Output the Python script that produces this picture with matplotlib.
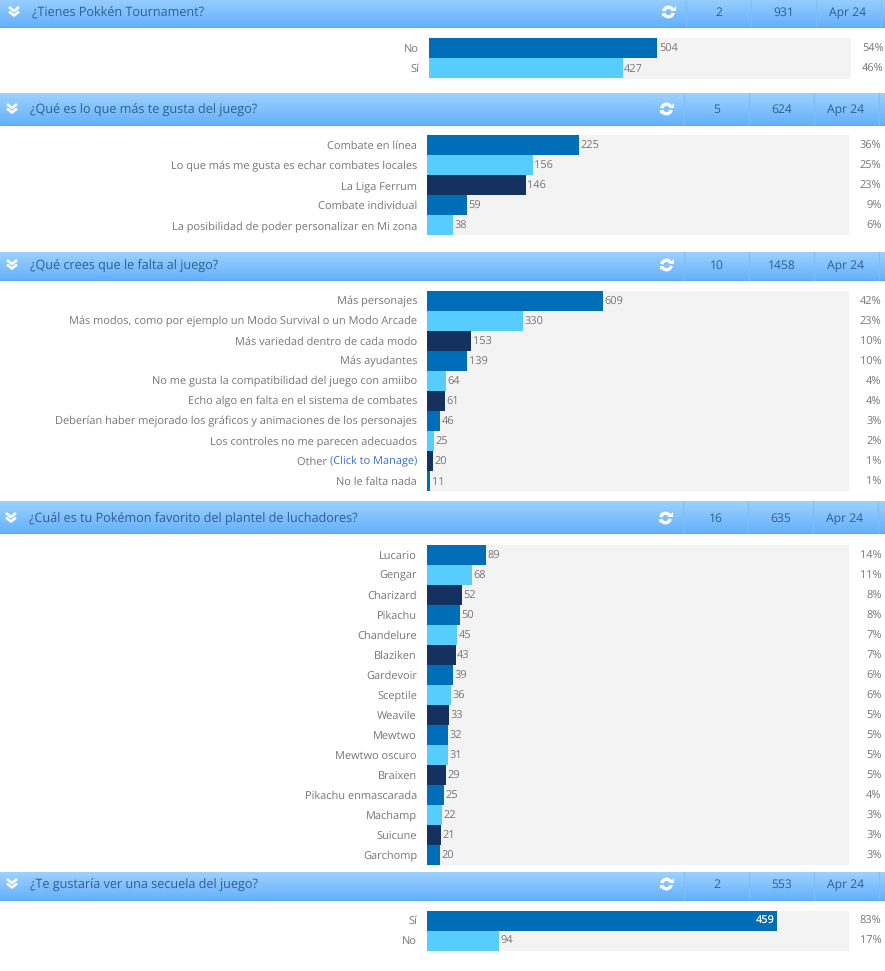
import numpy as np
import matplotlib
matplotlib.use("Agg")
import matplotlib.pyplot as plt
from matplotlib.patches import Arc, Polygon, Rectangle

plt.rcParams['font.family'] = ['Open Sans', 'DejaVu Sans']
plt.rcParams['text.hinting'] = 'none'

W, H = 885, 971

# --- survey data ---
titles = ['¿Tienes Pokkén Tournament?',
          '¿Qué es lo que más te gusta del juego?',
          '¿Qué crees que le falta al juego?',
          '¿Cuál es tu Pokémon favorito del plantel de luchadores?',
          '¿Te gustaría ver una secuela del juego?']
n_options = [2, 5, 10, 16, 2]
totals = [931, 624, 1458, 635, 553]
dates = ['Apr 24'] * 5

labels_1 = ['No', 'Sí']
votes_1 = [504, 427]
pcts_1 = [54, 46]

labels_2 = ['Combate en línea', 'Lo que más me gusta es echar combates locales',
            'La Liga Ferrum', 'Combate individual',
            'La posibilidad de poder personalizar en Mi zona']
votes_2 = [225, 156, 146, 59, 38]
pcts_2 = [36, 25, 23, 9, 6]

labels_3 = ['Más personajes', 'Más modos, como por ejemplo un Modo Survival o un Modo Arcade',
            'Más variedad dentro de cada modo', 'Más ayudantes',
            'No me gusta la compatibilidad del juego con amiibo',
            'Echo algo en falta en el sistema de combates',
            'Deberían haber mejorado los gráficos y animaciones de los personajes',
            'Los controles no me parecen adecuados', 'Other (Click to Manage)', 'No le falta nada']
votes_3 = [609, 330, 153, 139, 64, 61, 46, 25, 20, 11]
pcts_3 = [42, 23, 10, 10, 4, 4, 3, 2, 1, 1]

labels_4 = ['Lucario', 'Gengar', 'Charizard', 'Pikachu', 'Chandelure', 'Blaziken', 'Gardevoir',
            'Sceptile', 'Weavile', 'Mewtwo', 'Mewtwo oscuro', 'Braixen', 'Pikachu enmascarada',
            'Machamp', 'Suicune', 'Garchomp']
votes_4 = [89, 68, 52, 50, 45, 43, 39, 36, 33, 32, 31, 29, 25, 22, 21, 20]
pcts_4 = [14, 11, 8, 8, 7, 7, 6, 6, 5, 5, 5, 5, 4, 3, 3, 3]

labels_5 = ['Sí', 'No']
votes_5 = [459, 94]
pcts_5 = [83, 17]

all_labels = [labels_1, labels_2, labels_3, labels_4, labels_5]
all_votes = [votes_1, votes_2, votes_3, votes_4, votes_5]
all_pcts = [pcts_1, pcts_2, pcts_3, pcts_4, pcts_5]

# layout of each block in pixels
header_y = [(-4, 28), (93, 126), (252, 281), (501, 534), (872, 901)]
header_mid = [12, 109, 265, 518, 884]
header_dx = [2, 0, 0, -1, 0]
track_x = [429, 427, 427, 427, 427]
track_top = [38.5, 135.5, 291, 545, 910.5]
ROW = 20
TRACK_W = 422

BLUE = '#006db8'
LIGHT = '#57cdfd'
NAVY = '#14315f'
CYCLES = [[BLUE, LIGHT], [BLUE, LIGHT, NAVY], [BLUE, LIGHT, NAVY], [BLUE, LIGHT, NAVY], [BLUE, LIGHT]]
# the charts repeat colours in this order
ORDERS = [[0, 1], [0, 1, 2, 0, 1], [0, 1, 2, 0, 1, 2, 0, 1, 2, 0],
          [0, 1, 2, 0, 1, 2, 0, 1, 2, 0, 1, 2, 0, 1, 2, 0], [0, 1]]
TRACK = '#f3f3f3'
TEXT = '#767676'
HEAD_TEXT = '#2f5f8f'
FS = 7.96
BASE = -3.5  # baseline of row text relative to the bar centre, pixels


def px_axes(fig, x, y, w, h):
    """Axes placed with pixel coordinates measured from the top left."""
    return fig.add_axes([x / W, 1 - (y + h) / H, w / W, h / H])


def draw_header(overlay, i):
    top, bottom = header_y[i]
    dx = header_dx[i]
    mid = header_mid[i]
    gradient = np.linspace(0, 1, 64).reshape(-1, 1)
    c0 = np.array(matplotlib.colors.to_rgb('#9ed1ff'))
    c1 = np.array(matplotlib.colors.to_rgb('#62b0fb'))
    img = c0 + (c1 - c0) * gradient[:, :, None]
    overlay.imshow(img, extent=(0, W, bottom, top), aspect='auto', zorder=1)
    overlay.add_patch(Rectangle((0, bottom - 1), W, 1, color='#55a9f7', zorder=2, lw=0))

    # double chevron
    for off in (-3, 1.5):
        cx, cy = 12 + dx, mid + off
        overlay.plot([cx - 5, cx, cx + 5], [cy - 2, cy + 2, cy - 2], color='white', lw=1.9,
                     solid_capstyle='butt', zorder=3)
    overlay.text(30 + dx, mid + 4.5, titles[i], fontsize=9.05, color=HEAD_TEXT, va='baseline', ha='left', zorder=3)

    # refresh icon
    rx, ry = 666.5 + dx, mid
    overlay.add_patch(Arc((rx, ry), 9.5, 9.5, theta1=190, theta2=330, color='white', lw=2.4, zorder=3))
    overlay.add_patch(Arc((rx, ry), 9.5, 9.5, theta1=10, theta2=150, color='white', lw=2.4, zorder=3))
    overlay.add_patch(Polygon([[rx + 2.5, ry - 1], [rx + 7, ry - 1], [rx + 7, ry - 5.5]], color='white', lw=0, zorder=3))
    overlay.add_patch(Polygon([[rx - 2.5, ry + 1], [rx - 7, ry + 1], [rx - 7, ry + 5.5]], color='white', lw=0, zorder=3))

    # column separators and cells
    for sx in (684, 749, 814, 879):
        overlay.plot([sx + dx, sx + dx], [top, bottom - 1], color='#7dbdf8', lw=0.8, zorder=3)
    for cx, s in zip((717, 782, 846), (n_options[i], totals[i], dates[i])):
        overlay.text(cx + dx, mid + 4.3, str(s), fontsize=8.7, color=HEAD_TEXT, ha='center', va='baseline', zorder=3)


def draw_block(fig, i):
    labels, votes, pcts = all_labels[i], all_votes[i], all_pcts[i]
    n = len(labels)
    ax = px_axes(fig, track_x[i], track_top[i], TRACK_W, n * ROW)
    ax.set_xlim(0, totals[i])
    ax.set_ylim(n - 0.5, -0.5)
    ax.set_facecolor(TRACK)
    ax.set_xticks([])
    ax.set_yticks([])
    for s in ax.spines.values():
        s.set_visible(False)
    y = np.arange(n)
    colors = [CYCLES[i][k] for k in ORDERS[i]]
    ax.barh(y, votes, height=1.0, color=colors, lw=0)

    for k, (v, p) in enumerate(zip(votes, pcts)):
        # long bars carry the count inside
        if v / totals[i] > 0.7:
            ax.annotate(str(v), (v, k), xytext=(-3, BASE), textcoords='offset pixels', ha='right',
                        va='baseline', color='white', fontsize=FS, fontweight='semibold')
        else:
            ax.annotate(str(v), (v, k), xytext=(1.5, BASE), textcoords='offset pixels', ha='left',
                        va='baseline', color=TEXT, fontsize=FS)
        ax.annotate(f'{p}%', (1, k), xycoords=('axes fraction', 'data'), xytext=(32.5, BASE),
                    textcoords='offset pixels', ha='right', va='baseline', color=TEXT, fontsize=FS)
        if labels[k].startswith('Other'):
            link = ax.annotate('(Click to Manage)', (0, k), xycoords=('axes fraction', 'data'),
                               xytext=(-10, BASE), textcoords='offset pixels', ha='right', va='baseline',
                               color='#3f6fd0', fontsize=FS)
            ax.annotate('Other ', (0, k), xycoords=('axes fraction', 'data'),
                        xytext=(-10 - link.get_window_extent(fig.canvas.get_renderer()).width, BASE),
                        textcoords='offset pixels', ha='right', va='baseline', color=TEXT, fontsize=FS)
        else:
            ax.annotate(labels[k], (0, k), xycoords=('axes fraction', 'data'), xytext=(-10, BASE),
                        textcoords='offset pixels', ha='right', va='baseline', color=TEXT, fontsize=FS)


def main():
    fig = plt.figure(figsize=(W / 100, H / 100), dpi=100, facecolor='white')
    overlay = fig.add_axes([0, 0, 1, 1])
    overlay.axis('off')
    for i in range(len(titles)):
        draw_header(overlay, i)
    overlay.set_xlim(0, W)
    overlay.set_ylim(H, 0)
    for i in range(len(titles)):
        draw_block(fig, i)
    fig.savefig('out.png', dpi=100)


if __name__ == "__main__":
    main()
